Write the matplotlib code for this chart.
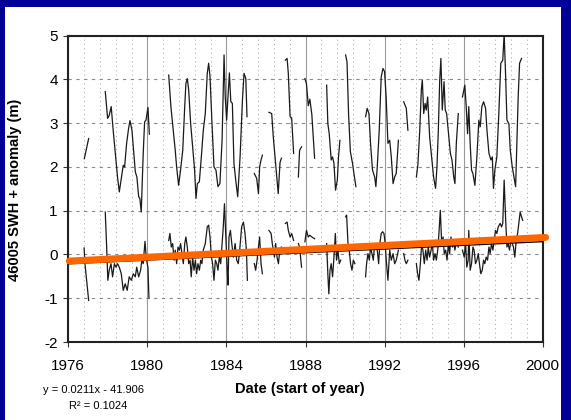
import numpy as np
import matplotlib
matplotlib.use("Agg")
from matplotlib import pyplot as plt
from matplotlib.patches import Rectangle
from matplotlib.ticker import MultipleLocator

nan = np.nan

# buoy 46005 monthly mean SWH (m), nan marks a gap in the record
swh_year = [1976.81, 1977.03, nan,
            1977.87, 1977.99, 1978.07, 1978.17, 1978.27, 1978.38, 1978.49, 1978.58, 1978.68, 1978.78,
            1978.85, 1978.95, 1979.05, 1979.12, 1979.22, 1979.30, 1979.39, 1979.47, 1979.56, 1979.62,
            1979.69, 1979.79, 1979.86, 1979.93, 1980.03, 1980.10, nan,
            1981.08, 1981.19, 1981.31, 1981.41, 1981.48, 1981.58, 1981.68, 1981.79, 1981.89, 1981.95,
            1982.02, 1982.09, 1982.19, 1982.29, 1982.39, 1982.46, 1982.53, 1982.63, 1982.73, 1982.83,
            1982.93, 1983.03, 1983.10, 1983.17, 1983.27, 1983.37, 1983.47, 1983.57, 1983.67, 1983.78,
            1983.88, 1983.94, 1984.01, 1984.08, 1984.15, 1984.22, 1984.30, 1984.38, 1984.47, 1984.57,
            1984.69, 1984.81, 1984.89, 1984.98, 1985.04, nan,
            1985.41, 1985.53, 1985.62, 1985.68, 1985.75, 1985.82, nan,
            1986.15, 1986.29, 1986.37, 1986.50, 1986.62, 1986.71, 1986.78, nan,
            1986.98, 1987.07, 1987.13, 1987.22, 1987.30, 1987.40, nan,
            1987.64, 1987.70, 1987.80, nan,
            1987.97, 1988.05, 1988.14, 1988.22, 1988.32, 1988.46, nan,
            1989.07, 1989.13, 1989.20, 1989.30, 1989.37, 1989.44, 1989.52, 1989.61, 1989.67, 1989.74, nan,
            1990.03, 1990.10, 1990.18, 1990.27, 1990.38, 1990.45, 1990.55, nan,
            1991.04, 1991.12, 1991.21, 1991.29, 1991.39, 1991.50, 1991.56, 1991.63, 1991.73, 1991.83,
            1991.92, 1992.00, 1992.08, 1992.17, 1992.26, 1992.34, 1992.43, 1992.51, 1992.59, 1992.70, nan,
            1992.97, 1993.10, 1993.18, nan,
            1993.61, 1993.69, 1993.78, 1993.86, 1993.91, 1993.98, 1994.05, 1994.11, 1994.18, 1994.28,
            1994.38, 1994.48, 1994.58, 1994.65, 1994.72, 1994.79, 1994.85, 1994.92, 1995.01, 1995.07,
            1995.14, 1995.22, 1995.33, 1995.41, 1995.50, 1995.56, 1995.63, 1995.73, nan,
            1995.94, 1996.06, 1996.13, 1996.20, 1996.26, 1996.33, 1996.40, 1996.47, 1996.57, 1996.67,
            1996.77, 1996.84, 1996.92, 1997.01, 1997.11, 1997.18, 1997.28, 1997.38, 1997.45, 1997.51,
            1997.58, 1997.68, 1997.78, 1997.88, 1997.98, 1998.05, 1998.12, 1998.19, 1998.29, 1998.36,
            1998.46, 1998.56, 1998.63, 1998.69, 1998.76, 1998.83, 1998.93]
swh_m = [2.19, 2.65, nan,
         3.72, 3.11, 3.18, 3.38, 2.84, 2.31, 1.77, 1.43, 1.74, 2.04,
         2.00, 2.54, 2.88, 3.06, 2.84, 2.38, 1.89, 1.77, 1.32, 1.28,
         0.97, 2.31, 3.03, 3.07, 3.36, 2.75, nan,
         4.10, 3.38, 2.84, 2.38, 2.00, 1.58, 1.93, 2.38, 3.38, 3.91,
         4.02, 3.76, 2.99, 2.46, 1.93, 1.28, 1.62, 1.66, 2.23, 2.84,
         3.22, 4.14, 4.37, 4.06, 2.99, 2.00, 1.93, 1.55, 1.62, 2.61,
         4.56, 3.60, 3.07, 3.60, 4.15, 3.50, 3.45, 2.08, 1.70, 1.32,
         2.23, 3.53, 4.14, 4.02, 3.15, nan,
         1.85, 1.74, 1.39, 2.00, 2.16, 2.27, nan,
         3.25, 3.22, 2.69, 2.00, 1.39, 2.10, 2.20, nan,
         4.44, 4.48, 4.14, 3.15, 3.12, 2.31, nan,
         1.77, 2.38, 2.46, nan,
         4.02, 3.90, 3.40, 3.55, 3.20, 2.20, nan,
         3.87, 2.99, 2.76, 2.16, 2.23, 2.08, 1.47, 1.70, 2.23, 2.61, nan,
         4.56, 4.40, 3.20, 2.35, 2.08, 1.85, 1.55, nan,
         3.15, 3.34, 3.22, 2.54, 1.93, 1.77, 1.55, 2.00, 2.84, 4.06,
         4.25, 4.18, 3.60, 2.54, 2.61, 2.23, 1.62, 1.77, 1.85, 2.61, nan,
         3.49, 3.34, 2.84, nan,
         1.77, 2.08, 2.84, 3.76, 3.99, 3.22, 3.45, 3.30, 3.60, 2.69,
         2.23, 1.77, 1.51, 2.00, 2.84, 3.99, 4.48, 3.30, 3.95, 3.30,
         3.22, 2.84, 2.31, 2.16, 1.77, 1.62, 2.54, 3.22, nan,
         3.60, 3.87, 3.38, 2.76, 3.38, 2.54, 1.93, 1.85, 1.58, 2.23,
         3.07, 2.92, 3.38, 3.49, 3.34, 2.84, 2.31, 2.16, 2.23, 1.51,
         1.93, 2.23, 3.22, 4.37, 4.44, 5.05, 4.14, 3.07, 2.99, 2.38,
         2.00, 1.74, 1.55, 2.46, 3.60, 4.37, 4.48]

# monthly SWH anomaly (m)
anom_year = [1976.80, 1976.84, 1977.03, nan,
             1977.87, 1977.94, 1978.00, 1978.07, 1978.16, 1978.24, 1978.33, 1978.41, 1978.49, 1978.58,
             1978.68, 1978.78, 1978.88, 1978.98, 1979.08, 1979.19, 1979.29, 1979.39, 1979.46, 1979.56,
             1979.66, 1979.72, 1979.79, 1979.88, 1979.95, 1980.03, 1980.08, nan,
             1981.08, 1981.14, 1981.21, 1981.28, 1981.35, 1981.41, 1981.48, 1981.55, 1981.62, 1981.68,
             1981.75, 1981.82, 1981.89, 1981.95, 1982.02, 1982.09, 1982.16, 1982.22, 1982.29, 1982.36,
             1982.43, 1982.49, 1982.56, 1982.63, 1982.70, 1982.76, 1982.83, 1982.93, 1983.03, 1983.10,
             1983.17, 1983.24, 1983.30, 1983.37, 1983.44, 1983.51, 1983.57, 1983.64, 1983.71, 1983.78,
             1983.84, 1983.90, 1983.97, 1984.04, 1984.08, 1984.13, 1984.20, 1984.27, 1984.35, 1984.44,
             1984.52, 1984.60, 1984.67, 1984.77, 1984.86, 1984.94, 1985.01, 1985.06, nan,
             1985.41, 1985.48, 1985.55, 1985.62, 1985.68, 1985.75, 1985.82, nan,
             1986.15, 1986.26, 1986.32, 1986.43, 1986.49, 1986.56, 1986.63, 1986.70, 1986.78, nan,
             1986.98, 1987.07, 1987.13, 1987.22, 1987.30, 1987.40, nan,
             1987.64, 1987.70, 1987.80, nan,
             1987.97, 1988.05, 1988.14, 1988.22, 1988.32, 1988.46, nan,
             1989.07, 1989.13, 1989.18, 1989.24, 1989.30, 1989.37, 1989.44, 1989.51, 1989.57, 1989.64,
             1989.71, 1989.78, nan,
             1990.03, 1990.08, 1990.15, 1990.21, 1990.28, 1990.35, 1990.42, 1990.50, nan,
             1991.04, 1991.09, 1991.16, 1991.23, 1991.29, 1991.36, 1991.43, 1991.50, 1991.56, 1991.63,
             1991.70, 1991.76, 1991.83, 1991.90, 1991.97, 1992.03, 1992.10, 1992.17, 1992.26, 1992.34,
             1992.43, 1992.51, 1992.59, 1992.70, nan,
             1992.97, 1993.03, 1993.10, 1993.18, nan,
             1993.61, 1993.67, 1993.74, 1993.81, 1993.88, 1993.94, 1994.01, 1994.08, 1994.15, 1994.21,
             1994.28, 1994.35, 1994.42, 1994.48, 1994.55, 1994.62, 1994.69, 1994.75, 1994.82, 1994.89,
             1994.96, 1995.02, 1995.09, 1995.16, 1995.23, 1995.29, 1995.36, 1995.43, 1995.50, 1995.56,
             1995.63, 1995.73, nan,
             1995.94, 1996.03, 1996.10, 1996.16, 1996.23, 1996.26, 1996.33, 1996.40, 1996.47, 1996.53,
             1996.60, 1996.67, 1996.74, 1996.80, 1996.87, 1996.94, 1997.01, 1997.07, 1997.14, 1997.21,
             1997.28, 1997.34, 1997.41, 1997.48, 1997.55, 1997.61, 1997.68, 1997.75, 1997.85, 1997.92,
             1997.98, 1998.05, 1998.12, 1998.19, 1998.25, 1998.32, 1998.39, 1998.46, 1998.52, 1998.59,
             1998.66, 1998.73, 1998.79, 1998.86, 1998.93, 1998.99]
anom_m = [0.15, -0.20, -1.05, nan,
          0.97, 0.17, -0.59, -0.36, -0.21, -0.51, -0.21, -0.29, -0.21, -0.29,
          -0.44, -0.82, -0.67, -0.82, -0.51, -0.59, -0.44, -0.51, -0.29, -0.51,
          -0.36, -0.13, -0.21, 0.30, -0.10, -0.30, -1.00, nan,
          0.32, 0.48, 0.17, 0.25, -0.13, 0.10, -0.21, 0.17, 0.10, 0.25,
          0.02, -0.21, 0.25, 0.40, 0.17, -0.21, -0.13, -0.51, -0.06, -0.36,
          -0.13, -0.44, -0.21, -0.36, -0.13, -0.21, 0.10, 0.25, 0.63, 0.67,
          0.40, -0.06, -0.21, -0.59, -0.13, -0.21, -0.36, -0.06, -0.21, 0.25,
          0.63, 1.16, 0.40, -0.36, -0.70, 0.40, 0.55, 0.25, -0.06, 0.25,
          -0.13, -0.21, 0.10, 0.63, 0.74, 0.48, 0.10, -0.59, nan,
          -0.21, -0.36, -0.13, 0.17, 0.40, -0.21, -0.44, nan,
          0.55, 0.48, 0.25, -0.06, 0.25, -0.06, -0.21, 0.10, 0.17, nan,
          0.71, 0.74, 0.55, 0.40, 0.48, 0.32, nan,
          0.25, 0.17, -0.29, nan,
          0.29, 0.55, 0.40, 0.44, 0.40, 0.36, nan,
          0.25, -0.44, -0.90, -0.36, -0.21, -0.51, -0.06, 0.48, -0.13, 0.10,
          -0.21, -0.13, nan,
          0.86, 0.90, 0.25, 0.10, -0.21, -0.36, -0.13, -0.21, nan,
          -0.51, -0.21, 0.02, -0.13, 0.17, 0.02, -0.13, 0.25, 0.17, 0.10,
          -0.21, 0.25, 0.48, 0.52, 0.48, 0.25, -0.21, -0.59, 0.10, -0.13,
          0.02, -0.21, -0.13, 0.10, nan,
          0.02, -0.13, -0.21, -0.13, nan,
          -0.21, -0.44, -0.59, -0.21, 0.25, 0.10, -0.21, 0.10, -0.13, 0.17,
          -0.06, 0.10, 0.25, -0.13, 0.02, -0.13, 0.10, 0.48, 1.01, 0.25,
          0.40, 0.02, 0.10, -0.13, 0.25, 0.02, 0.40, 0.17, 0.25, 0.10,
          0.32, 0.17, nan,
          0.10, -0.06, 0.25, -0.29, -0.13, 0.55, -0.36, -0.21, 0.17, 0.10,
          -0.21, -0.13, 0.02, -0.21, -0.44, -0.36, -0.13, -0.21, -0.06, -0.13,
          0.17, 0.02, 0.25, 0.10, 0.32, 0.55, 0.48, 0.63, 0.71, 0.63,
          0.71, 1.70, 0.86, 0.17, 0.25, 0.10, 0.32, 0.25, 0.17, -0.06,
          0.32, 0.48, 0.71, 0.97, 0.86, 0.78]

# Excel linear trend of the anomaly, as printed under the chart
trend_slope = 0.0211
trend_icpt = -41.906
trend_r2 = 0.1024
trend_year = [1976, 2000]

# orange highlight drawn over the trend (end points)
orange_year = [1976.05, 2000.15]
orange_m = [-0.15, 0.39]

xticks = [1976, 1980, 1984, 1988, 1992, 1996, 2000]
yticks = [-2, -1, 0, 1, 2, 3, 4, 5]

plt.rcParams['font.family'] = ['Liberation Sans', 'DejaVu Sans']
plt.rcParams['axes.unicode_minus'] = False

W, H = 571, 420
fig = plt.figure(figsize=(W / 100, H / 100), dpi=100)
fig.patch.set_facecolor('#000099')
# white slide panel inside the blue frame
fig.add_artist(Rectangle((5 / W, 0), (561 - 5) / W, (H - 7) / H, transform=fig.transFigure,
                         facecolor='white', edgecolor='none', zorder=-1))

x0, x1, y0, y1 = 68.3, 542.7, 35.7, 342.0
ax = fig.add_axes([x0 / W, 1 - y1 / H, (x1 - x0) / W, (y1 - y0) / H])
ax.set_facecolor('white')

ax.plot(swh_year, swh_m, color='#1a1a1a', lw=0.9, zorder=3)
ax.plot(anom_year, anom_m, color='#1a1a1a', lw=0.9, zorder=3)

trend = [trend_slope * t + trend_icpt for t in trend_year]
ax.plot(trend_year, trend, color='black', lw=1.0, zorder=4)
ax.plot(orange_year, orange_m, color='#ff6600', lw=5, solid_capstyle='round',
        zorder=5, clip_on=False)

ax.set_xlim(1976, 2000)
ax.set_ylim(-2, 5)
ax.set_xticks(xticks)
ax.set_yticks(yticks)
ax.xaxis.set_minor_locator(MultipleLocator(0.8))
ax.tick_params(axis='both', which='major', direction='out', length=3.6, width=0.8,
               labelsize=11, color='#333333')
ax.tick_params(axis='x', which='major', pad=9)
ax.tick_params(axis='y', which='major', pad=4)
ax.tick_params(axis='x', which='minor', length=0)

ax.grid(axis='x', which='major', color='#9a9a9a', lw=0.8, ls='-')
ax.grid(axis='x', which='minor', color='#a0a0a0', lw=0.7, ls=(0, (1, 3.5)))
ax.grid(axis='y', which='major', color='#8a8a8a', lw=0.8, ls=(0, (3, 4)))
ax.set_axisbelow(True)

for s in ax.spines.values():
    s.set_color('#222222')
    s.set_linewidth(1.5)

fig.text(15 / W, 1 - 190 / H, '46005 SWH + anomaly (m)', rotation=90, ha='center', va='center',
         fontsize=10.5, fontweight='bold')
fig.text(300 / W, 1 - 389 / H, 'Date (start of year)', ha='center', va='center',
         fontsize=10.5, fontweight='bold')
fig.text(43 / W, 1 - 390 / H, 'y = {}x - {}'.format(trend_slope, -trend_icpt), ha='left', va='center',
         fontsize=8)
fig.text(69 / W, 1 - 406 / H, 'R² = {}'.format(trend_r2), ha='left', va='center', fontsize=8)

fig.savefig('out.png', dpi=100, facecolor=fig.get_facecolor())
